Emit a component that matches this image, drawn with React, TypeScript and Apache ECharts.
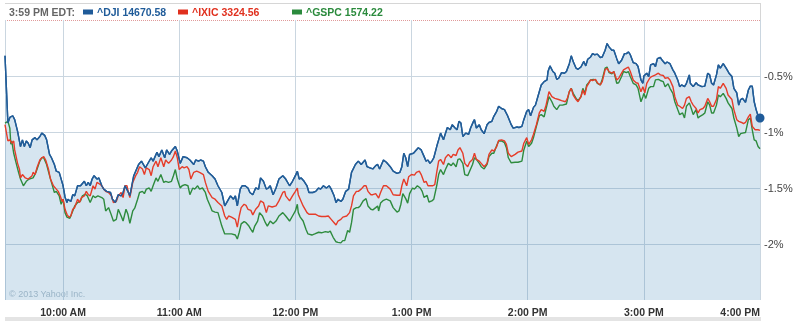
import React, { useEffect, useRef } from "react";
import * as echarts from "echarts";

// minutes after 9:30 AM, % change
const dji: [number, number][] = [
[0,-0.32],[1.5,-0.92],[2.5,-0.87],[4,-0.855],[5,-0.89],[6.5,-0.995],[8,-1.13],[9,-1.07],[10,-1.13],[11,-1.08],[12,-1.10],[13,-1.14],[14,-1.07],[15.5,-1.05],[16.5,-1.07],[18,-1.04],[19,-1.01],[20.5,-1.03],[21.5,-1.07],[23,-1.20],[24,-1.23],[25.5,-1.29],[26.5,-1.35],[28,-1.36],[29.5,-1.45],[30,-1.48],[31,-1.58],[32,-1.63],[32.5,-1.60],[34,-1.62],[35,-1.56],[36,-1.57],[37.5,-1.48],[39,-1.48],[41,-1.44],[42,-1.48],[43,-1.45],[44,-1.48],[45,-1.42],[46,-1.39],[47.5,-1.42],[48.5,-1.41],[50,-1.48],[51,-1.51],[52.5,-1.53],[54.5,-1.54],[55.5,-1.60],[57,-1.63],[58.5,-1.56],[60,-1.57],[61,-1.54],[62,-1.48],[63.5,-1.53],[64.5,-1.57],[66.5,-1.39],[69,-1.29],[70.5,-1.26],[72.5,-1.32],[73.5,-1.29],[75.5,-1.23],[76.5,-1.26],[78.5,-1.18],[79.5,-1.22],[81,-1.16],[82.5,-1.23],[83.5,-1.16],[85,-1.20],[86,-1.17],[88,-1.13],[89,-1.17],[90.5,-1.28],[92,-1.22],[94,-1.23],[95.5,-1.25],[97.5,-1.29],[98.5,-1.25],[100,-1.26],[101,-1.25],[102.5,-1.26],[103.5,-1.31],[105,-1.36],[107,-1.39],[108.5,-1.42],[110,-1.48],[112,-1.54],[113.5,-1.66],[114.5,-1.63],[115.5,-1.60],[116.5,-1.57],[118,-1.60],[119,-1.57],[120,-1.66],[121.5,-1.51],[122.5,-1.48],[124,-1.48],[125.5,-1.50],[126.5,-1.54],[128,-1.56],[129.5,-1.50],[131,-1.51],[132,-1.41],[133.5,-1.44],[135,-1.51],[136,-1.50],[137,-1.48],[138.5,-1.56],[140,-1.50],[141.5,-1.42],[143.5,-1.39],[145,-1.42],[147,-1.48],[148.5,-1.44],[150,-1.39],[151,-1.35],[152,-1.42],[153,-1.41],[154.5,-1.44],[156,-1.48],[157,-1.54],[159,-1.54],[160.5,-1.53],[162,-1.50],[163,-1.51],[164.5,-1.48],[166,-1.50],[167.5,-1.48],[168.5,-1.51],[170,-1.57],[171,-1.63],[172,-1.60],[173.5,-1.62],[174.5,-1.60],[176,-1.53],[177.5,-1.51],[179,-1.36],[181,-1.29],[182.5,-1.26],[184,-1.29],[186,-1.25],[187,-1.31],[188.5,-1.32],[190,-1.33],[191.5,-1.30],[192.5,-1.29],[193.5,-1.33],[195.5,-1.25],[197,-1.27],[199,-1.31],[200.5,-1.35],[202.5,-1.37],[204,-1.36],[205,-1.31],[206,-1.19],[207,-1.23],[208,-1.31],[209,-1.20],[211,-1.19],[212,-1.17],[213.5,-1.14],[215,-1.16],[216,-1.20],[217.5,-1.26],[218.5,-1.25],[219.5,-1.28],[220.5,-1.26],[221.5,-1.23],[223,-1.13],[224,-1.07],[225,-1.01],[226.5,-1.07],[227,-1.04],[228.5,-0.96],[230,-0.98],[231,-0.935],[232.5,-0.965],[233.5,-0.98],[234.5,-0.905],[235.5,-0.92],[236.5,-1.04],[238,-1.01],[239.5,-1.02],[240.5,-0.965],[242,-0.905],[242.5,-0.89],[243.5,-0.965],[245,-0.935],[246,-0.98],[247.5,-1.015],[249,-0.935],[250,-0.915],[251.5,-0.905],[252.5,-0.86],[254,-0.815],[255,-0.77],[256.5,-0.79],[258,-0.80],[259.5,-0.85],[261.5,-0.935],[262.5,-0.965],[264.5,-0.955],[265.5,-0.96],[267,-0.95],[268,-0.89],[269.5,-0.815],[270.5,-0.80],[271.5,-0.855],[273,-0.78],[274,-0.76],[275.5,-0.67],[277,-0.58],[278.5,-0.55],[280,-0.535],[280.5,-0.46],[281.5,-0.41],[283,-0.46],[284,-0.475],[285,-0.53],[286,-0.52],[287.5,-0.47],[289,-0.475],[290,-0.46],[291.5,-0.39],[292.5,-0.32],[293.5,-0.37],[295,-0.43],[296,-0.44],[297.5,-0.42],[299,-0.37],[300,-0.41],[301,-0.35],[302.5,-0.33],[303.5,-0.30],[304.5,-0.31],[306,-0.305],[307.5,-0.335],[308.5,-0.33],[310,-0.27],[311,-0.21],[312,-0.24],[313.5,-0.27],[314.5,-0.27],[316,-0.345],[317,-0.39],[318.5,-0.36],[320,-0.30],[321,-0.30],[322,-0.285],[323,-0.31],[324.5,-0.38],[326,-0.39],[327,-0.415],[328.5,-0.535],[329.5,-0.565],[330,-0.50],[331.5,-0.475],[332.5,-0.505],[333.5,-0.40],[335,-0.39],[336,-0.415],[337,-0.345],[338.5,-0.335],[339.5,-0.36],[341,-0.39],[342,-0.375],[343.5,-0.39],[345,-0.445],[346,-0.475],[347.5,-0.535],[348.5,-0.595],[349.5,-0.58],[351,-0.595],[352,-0.565],[353.5,-0.49],[354,-0.565],[355.5,-0.595],[357,-0.56],[358,-0.58],[360,-0.595],[361.5,-0.59],[363,-0.475],[364,-0.49],[365,-0.565],[366,-0.58],[367.5,-0.49],[368.5,-0.40],[369.5,-0.43],[371,-0.39],[372.5,-0.43],[374,-0.475],[375.5,-0.505],[376.5,-0.61],[378,-0.65],[379,-0.76],[380,-0.71],[381,-0.70],[382.5,-0.735],[384,-0.625],[385,-0.59],[386,-0.59],[387,-0.73],[388,-0.80],[389,-0.855],[390,-0.875]
];

const ixic: [number, number][] = [
[0,-0.935],[1.5,-1.08],[2.5,-1.07],[3.5,-1.10],[4.5,-1.08],[5,-1.16],[6.5,-1.28],[7.5,-1.335],[8,-1.41],[9,-1.38],[10.5,-1.41],[12,-1.42],[14,-1.39],[14.5,-1.36],[15.5,-1.38],[16.5,-1.32],[18,-1.25],[19,-1.23],[20,-1.22],[21,-1.25],[22.5,-1.335],[23.5,-1.42],[25,-1.48],[26.5,-1.51],[27.5,-1.53],[28.5,-1.57],[29.5,-1.62],[30,-1.60],[31,-1.69],[32,-1.735],[33,-1.76],[34,-1.75],[35,-1.69],[36,-1.675],[37.5,-1.60],[38.5,-1.63],[39.5,-1.585],[41,-1.57],[42,-1.53],[43,-1.56],[44,-1.57],[45.5,-1.48],[46.5,-1.51],[47.5,-1.45],[48.5,-1.46],[50,-1.48],[51,-1.51],[52,-1.53],[53.5,-1.54],[55,-1.57],[56,-1.63],[57.5,-1.62],[58.5,-1.57],[60,-1.54],[61,-1.585],[62,-1.48],[63,-1.48],[63.5,-1.52],[64.5,-1.585],[66,-1.45],[67.5,-1.39],[68.5,-1.36],[69.5,-1.31],[71,-1.33],[72,-1.38],[73,-1.32],[74.5,-1.335],[75.5,-1.39],[76.5,-1.31],[78,-1.26],[79,-1.31],[80.5,-1.23],[82,-1.31],[83,-1.25],[84.5,-1.28],[86,-1.25],[87,-1.22],[88,-1.17],[89,-1.23],[90,-1.335],[91.5,-1.31],[92.5,-1.32],[94,-1.31],[95,-1.335],[96,-1.42],[97.5,-1.36],[99,-1.35],[100.5,-1.36],[102.5,-1.38],[103.5,-1.45],[105,-1.53],[107,-1.585],[108.5,-1.60],[110,-1.63],[112,-1.66],[113.5,-1.75],[114.5,-1.78],[115.5,-1.75],[117,-1.76],[119,-1.78],[120,-1.85],[121,-1.75],[122,-1.675],[123.5,-1.645],[124.5,-1.655],[125.5,-1.69],[127,-1.70],[128,-1.74],[129.5,-1.69],[131,-1.66],[132,-1.615],[133.5,-1.63],[135,-1.72],[136,-1.66],[138,-1.67],[140,-1.66],[141.5,-1.615],[143.5,-1.54],[144.5,-1.53],[145,-1.57],[147,-1.615],[148.5,-1.57],[150,-1.53],[151,-1.50],[151.5,-1.56],[152.5,-1.60],[154,-1.66],[156,-1.72],[157,-1.735],[159,-1.735],[160.5,-1.735],[162,-1.75],[163.5,-1.755],[165.5,-1.755],[167,-1.75],[168.5,-1.78],[170,-1.81],[171,-1.83],[172,-1.795],[173.5,-1.78],[174.5,-1.76],[176.5,-1.75],[178,-1.72],[179,-1.66],[180,-1.57],[181.5,-1.53],[182.5,-1.53],[184,-1.51],[185.5,-1.48],[186.5,-1.48],[187.5,-1.53],[189,-1.56],[190,-1.56],[191.5,-1.55],[193,-1.59],[194,-1.54],[195.5,-1.48],[197,-1.48],[199,-1.51],[200.5,-1.56],[202.5,-1.565],[204,-1.565],[205,-1.48],[206,-1.42],[207.5,-1.48],[208.5,-1.40],[210,-1.38],[211.5,-1.385],[212.5,-1.36],[214,-1.35],[215,-1.38],[216.5,-1.45],[217.5,-1.44],[218.5,-1.48],[220,-1.48],[221,-1.48],[222,-1.47],[223,-1.36],[224,-1.26],[225,-1.245],[226.5,-1.29],[227.5,-1.23],[229,-1.20],[230.5,-1.23],[231.5,-1.20],[233,-1.21],[234,-1.16],[235,-1.14],[236.5,-1.19],[237.5,-1.28],[239,-1.31],[240,-1.27],[241.5,-1.245],[242.5,-1.19],[243.5,-1.245],[245,-1.26],[246,-1.28],[247.5,-1.31],[249,-1.28],[250,-1.20],[251.5,-1.16],[252.5,-1.17],[254,-1.13],[255,-1.075],[256.5,-1.07],[258,-1.08],[259,-1.11],[260,-1.19],[261.5,-1.22],[263.5,-1.20],[265,-1.18],[267,-1.17],[268,-1.10],[269.5,-1.05],[270.5,-1.11],[272,-1.07],[273,-1.02],[274.5,-0.935],[276,-0.83],[277,-0.80],[278.5,-0.815],[279.5,-0.76],[281,-0.64],[282.5,-0.685],[284,-0.70],[286,-0.71],[287.5,-0.72],[289.5,-0.73],[290.5,-0.70],[291.5,-0.64],[292.5,-0.61],[293.5,-0.67],[295,-0.71],[296,-0.73],[297.5,-0.685],[298.5,-0.625],[299.5,-0.67],[300.5,-0.595],[301.5,-0.565],[302.5,-0.535],[303.5,-0.54],[305,-0.53],[306,-0.56],[307.5,-0.58],[308.5,-0.55],[310,-0.445],[311,-0.43],[312,-0.46],[313.5,-0.475],[314.5,-0.46],[316,-0.535],[317,-0.52],[318.5,-0.475],[319.5,-0.445],[321,-0.43],[322,-0.42],[323,-0.46],[324.5,-0.535],[326,-0.56],[327,-0.565],[328.5,-0.64],[329.5,-0.595],[330.5,-0.65],[331.5,-0.565],[333,-0.52],[334,-0.505],[336,-0.49],[337.5,-0.475],[338.5,-0.49],[340,-0.495],[341,-0.52],[342.5,-0.515],[343.5,-0.535],[345,-0.595],[346,-0.685],[347.5,-0.76],[348.5,-0.77],[350,-0.79],[351,-0.76],[352,-0.70],[353.5,-0.685],[354.5,-0.73],[355.5,-0.76],[357,-0.79],[358,-0.83],[359,-0.80],[360.5,-0.79],[361.5,-0.77],[363,-0.70],[364,-0.73],[365,-0.77],[366,-0.77],[367.5,-0.71],[368.5,-0.595],[369.5,-0.61],[371,-0.565],[372.5,-0.61],[373.5,-0.67],[375.5,-0.71],[376.5,-0.80],[378,-0.89],[379,-0.905],[380.5,-0.915],[381.5,-0.925],[382.5,-0.915],[384,-0.865],[385,-0.84],[386,-0.95],[387.5,-0.98],[389,-0.98],[390,-0.985]
];

const gspc: [number, number][] = [
[0,-0.92],[1.5,-0.905],[2.5,-0.965],[3,-1.11],[3.5,-1.08],[4.5,-1.19],[5.5,-1.26],[7,-1.36],[8,-1.42],[9.5,-1.48],[11,-1.44],[12.5,-1.42],[14.5,-1.41],[16,-1.36],[18,-1.26],[19,-1.23],[20,-1.23],[21.5,-1.29],[23,-1.39],[24,-1.45],[25.5,-1.54],[26.5,-1.53],[28,-1.57],[29,-1.645],[30,-1.60],[31,-1.72],[32,-1.76],[33.5,-1.77],[35,-1.705],[36,-1.66],[37.5,-1.63],[39,-1.615],[40,-1.57],[41.5,-1.555],[42.5,-1.57],[44,-1.63],[45.5,-1.57],[46.5,-1.585],[48,-1.57],[50,-1.585],[51,-1.60],[52,-1.705],[53.5,-1.675],[54.5,-1.72],[56,-1.795],[57.5,-1.78],[58.5,-1.69],[60,-1.75],[61,-1.795],[62.5,-1.69],[63.5,-1.735],[64.5,-1.815],[66,-1.705],[67,-1.68],[68.5,-1.60],[69.5,-1.54],[71,-1.53],[72,-1.55],[73,-1.51],[74.5,-1.50],[75.5,-1.53],[76.5,-1.48],[78,-1.41],[79,-1.44],[80.5,-1.38],[82,-1.45],[83,-1.44],[84.5,-1.45],[86,-1.44],[87,-1.39],[88,-1.335],[89,-1.42],[90.5,-1.50],[91.5,-1.48],[93,-1.47],[94.5,-1.48],[95.5,-1.56],[97,-1.50],[98,-1.51],[99.5,-1.48],[100.5,-1.51],[102,-1.50],[103.5,-1.54],[104.5,-1.60],[106,-1.66],[107,-1.705],[108.5,-1.715],[110,-1.72],[111,-1.78],[112,-1.84],[113.5,-1.91],[115.5,-1.91],[117,-1.91],[119,-1.92],[120,-1.955],[121,-1.895],[122,-1.82],[123.5,-1.80],[124.5,-1.81],[126,-1.84],[127,-1.87],[128,-1.895],[129,-1.84],[130.5,-1.795],[131.5,-1.72],[133,-1.75],[134.5,-1.81],[135.5,-1.84],[137,-1.795],[138.5,-1.82],[140,-1.795],[141.5,-1.75],[143.5,-1.72],[145,-1.75],[147,-1.795],[148.5,-1.75],[150,-1.705],[151,-1.645],[151.5,-1.72],[152.5,-1.76],[154,-1.795],[155.5,-1.87],[156.5,-1.91],[158.5,-1.92],[160,-1.91],[162,-1.895],[163.5,-1.90],[165.5,-1.89],[167,-1.895],[168,-1.885],[169.5,-1.94],[171,-1.98],[172,-1.985],[173.5,-1.99],[174.5,-1.97],[175.5,-1.97],[177,-1.88],[178,-1.895],[179,-1.81],[180,-1.69],[181.5,-1.675],[182.5,-1.675],[183.5,-1.66],[185,-1.615],[186.5,-1.595],[187.5,-1.66],[189,-1.69],[190,-1.695],[191.5,-1.675],[192.5,-1.66],[193,-1.705],[194,-1.635],[195.5,-1.61],[197,-1.60],[199,-1.615],[200.5,-1.675],[202.5,-1.715],[203.5,-1.705],[204.5,-1.645],[205.5,-1.55],[207,-1.595],[208,-1.635],[209,-1.55],[210.5,-1.50],[211.5,-1.51],[213,-1.48],[214.5,-1.50],[215.5,-1.53],[216.5,-1.585],[218,-1.565],[219,-1.625],[220.5,-1.615],[221.5,-1.60],[223,-1.48],[224,-1.38],[225,-1.335],[226.5,-1.38],[227.5,-1.335],[229,-1.28],[230.5,-1.30],[231.5,-1.275],[233,-1.31],[234,-1.245],[235,-1.24],[236.5,-1.28],[237.5,-1.38],[239,-1.39],[240,-1.35],[241.5,-1.29],[242.5,-1.23],[243.5,-1.245],[245,-1.28],[246,-1.31],[247.5,-1.33],[249,-1.29],[250,-1.22],[251.5,-1.19],[252.5,-1.19],[254,-1.12],[255,-1.08],[256.5,-1.08],[258,-1.095],[259,-1.14],[260,-1.23],[261.5,-1.275],[263.5,-1.27],[265,-1.27],[267,-1.26],[268,-1.16],[269.5,-1.08],[270.5,-1.13],[272,-1.10],[273,-1.05],[274.5,-0.95],[276,-0.855],[277,-0.845],[278.5,-0.865],[279.5,-0.79],[281,-0.685],[282.5,-0.73],[283.5,-0.77],[285,-0.80],[286.5,-0.76],[288,-0.76],[290,-0.75],[291.5,-0.64],[292.5,-0.61],[293.5,-0.655],[295,-0.70],[296,-0.72],[297.5,-0.685],[298.5,-0.61],[299.5,-0.655],[300.5,-0.58],[301.5,-0.56],[302.5,-0.535],[304,-0.53],[305,-0.535],[306,-0.565],[307.5,-0.58],[308.5,-0.53],[310,-0.43],[311,-0.42],[312,-0.47],[313.5,-0.48],[314.5,-0.46],[316,-0.565],[317,-0.56],[318.5,-0.505],[319.5,-0.46],[321,-0.47],[322,-0.46],[323,-0.505],[324.5,-0.565],[326,-0.58],[327,-0.61],[328.5,-0.73],[329.5,-0.685],[330,-0.655],[331,-0.70],[332.5,-0.61],[333.5,-0.595],[335,-0.595],[336,-0.535],[337.5,-0.53],[338.5,-0.54],[340,-0.55],[341,-0.595],[342.5,-0.57],[343.5,-0.61],[345,-0.655],[346,-0.73],[347.5,-0.80],[348.5,-0.845],[350,-0.83],[351,-0.875],[352,-0.77],[353.5,-0.74],[354.5,-0.79],[355.5,-0.845],[357,-0.80],[358,-0.875],[359,-0.86],[360.5,-0.845],[361.5,-0.83],[363,-0.73],[364,-0.76],[365,-0.83],[366,-0.83],[367.5,-0.76],[368.5,-0.67],[369.5,-0.685],[371,-0.655],[372.5,-0.70],[373.5,-0.74],[375.5,-0.79],[376.5,-0.875],[378,-0.965],[379,-1.04],[380,-1.015],[381,-1.01],[382.5,-1.005],[384,-0.89],[385,-0.875],[386,-0.98],[387,-1.07],[388,-1.08],[389,-1.13],[390,-1.15]
];

const hourTicks = [30, 90, 150, 210, 270, 330, 390];
const hourLabels = ["10:00 AM", "11:00 AM", "12:00 PM", "1:00 PM", "2:00 PM", "3:00 PM", "4:00 PM"];
const gridTicks = [0, 30, 90, 150, 210, 270, 330, 390];

const headerTime = "3:59 PM EDT:";
const legendItems = [
  { name: "^DJI", last: "14670.58", color: "#1f5b99" },
  { name: "^IXIC", last: "3324.56", color: "#e0301e" },
  { name: "^GSPC", last: "1574.22", color: "#2a8a3c" },
];

const DJI_COLOR = "#225d98";
const IXIC_COLOR = "#e63c29";
const GSPC_COLOR = "#2e8b3e";

export default function App() {
  const ref = useRef<HTMLDivElement>(null);
  useEffect(() => {
    if (!ref.current) return;
    const chart = echarts.init(ref.current, null, { renderer: "svg" });
    const font = "'Liberation Sans', Arial, sans-serif";
    const legendX = [83, 178, 292];
    const graphics: any[] = [
      { type: "line", shape: { x1: 5, y1: 3.5, x2: 760, y2: 3.5 }, style: { stroke: "#d6d6d6", lineWidth: 1 } },
      { type: "line", shape: { x1: 760.5, y1: 3, x2: 760.5, y2: 21 }, style: { stroke: "#d6d6d6", lineWidth: 1 } },
      { type: "line", shape: { x1: 5, y1: 20.5, x2: 760, y2: 20.5 }, style: { stroke: "#e09a9a", lineWidth: 1, lineDash: [1, 1] } },
      { type: "rect", shape: { x: 5, y: 317, width: 756, height: 4 }, style: { fill: "#e4e4e4" } },
      { type: "text", x: 9, y: 12, style: { text: headerTime, fill: "#666666", font: `bold 10.5px ${font}`, textVerticalAlign: "middle" } },
      { type: "text", x: 9, y: 294, style: { text: "© 2013 Yahoo! Inc.", fill: "#b4c2cc", font: `9px ${font}`, textVerticalAlign: "middle" } },
    ];
    legendItems.forEach((it, i) => {
      graphics.push({ type: "rect", shape: { x: legendX[i], y: 9.5, width: 10, height: 5 }, style: { fill: it.color } });
      graphics.push({ type: "text", x: legendX[i] + 14, y: 12, style: { text: `${it.name} ${it.last}`, fill: it.color, font: `bold 10.5px ${font}`, textVerticalAlign: "middle" } });
    });
    const last = dji[dji.length - 1];
    chart.setOption({
      animation: false,
      grid: { left: 5, right: 44, top: 20, bottom: 21, containLabel: false },
      xAxis: {
        type: "value", min: 0, max: 390,
        axisLine: { show: false },
        axisTick: { show: false, customValues: gridTicks },
        axisLabel: {
          customValues: hourTicks,
          formatter: (v: number) => hourLabels[hourTicks.indexOf(v)] ?? "",
          color: "#333", fontWeight: "bold", fontSize: 10.5, fontFamily: font, margin: 6,
          alignMaxLabel: "right",
        },
        splitLine: { show: true, lineStyle: { color: "#cad6e0", width: 1 } },
      },
      yAxis: {
        type: "value", min: -2.5, max: 0, interval: 0.5, position: "right",
        axisLine: { show: false }, axisTick: { show: false },
        axisLabel: {
          formatter: (v: number) => (v === 0 || v === -2.5 ? "" : `${v}%`),
          color: "#444", fontSize: 11, fontFamily: font, margin: 4,
        },
        splitLine: { show: true, showMinLine: false, showMaxLine: false, lineStyle: { color: "#cad6e0", width: 1 } },
      },
      series: [
        {
          type: "line", data: dji, showSymbol: false, symbol: "none",
          lineStyle: { color: DJI_COLOR, width: 1.4 },
          areaStyle: { color: "rgba(60,130,185,0.21)", opacity: 1, origin: "start" },
          z: 3,
        },
        { type: "line", data: gspc, showSymbol: false, symbol: "none", lineStyle: { color: GSPC_COLOR, width: 1.4 }, z: 4 },
        { type: "line", data: ixic, showSymbol: false, symbol: "none", lineStyle: { color: IXIC_COLOR, width: 1.4 }, z: 5 },
        { type: "line", data: dji, showSymbol: false, symbol: "none", lineStyle: { color: DJI_COLOR, width: 1.4 }, z: 6 },
        { type: "scatter", data: [last], symbol: "circle", symbolSize: 9, itemStyle: { color: "#1f5b99", opacity: 1 }, z: 7 },
      ],
      graphic: graphics,
    });
    return () => chart.dispose();
  }, []);
  return <div ref={ref} style={{ position: "fixed", left: 0, top: 0, width: 804, height: 321 }} />;
}
